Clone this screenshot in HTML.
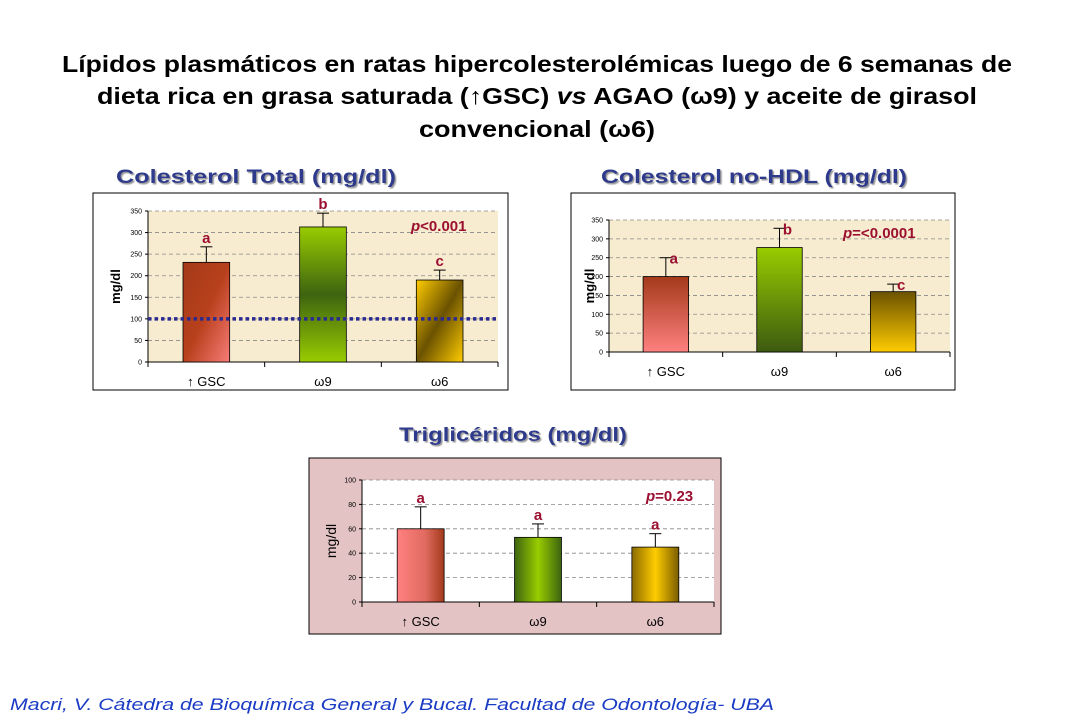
<!DOCTYPE html>
<html><head><meta charset="utf-8">
<style>
body{margin:0;background:#fff;}
svg text{font-family:"Liberation Sans",sans-serif;}
</style></head>
<body>
<svg id="s" width="1080" height="720" viewBox="0 0 1080 720" xmlns="http://www.w3.org/2000/svg">
<defs>
 <linearGradient id="gR1" x1="0" y1="0" x2="1" y2="1"><stop offset="0" stop-color="#a33a1a"/><stop offset="0.5" stop-color="#b8401c"/><stop offset="1" stop-color="#f87c78"/></linearGradient>
 <linearGradient id="gR1b" x1="1" y1="0" x2="0" y2="1"><stop offset="0" stop-color="#a23518"/><stop offset="0.5" stop-color="#c65238"/><stop offset="1" stop-color="#f98080"/></linearGradient>
 <linearGradient id="gG1" x1="0" y1="0" x2="0" y2="1"><stop offset="0" stop-color="#99cc00"/><stop offset="0.5" stop-color="#3d6410"/><stop offset="1" stop-color="#99cc00"/></linearGradient>
 <linearGradient id="gY1" x1="0" y1="0" x2="1" y2="1"><stop offset="0" stop-color="#ffcc00"/><stop offset="0.5" stop-color="#6b5200"/><stop offset="1" stop-color="#ffcc00"/></linearGradient>
 <linearGradient id="gR2" x1="0" y1="0" x2="0" y2="1"><stop offset="0" stop-color="#a33a1a"/><stop offset="1" stop-color="#ff8080"/></linearGradient>
 <linearGradient id="gG2" x1="0" y1="0" x2="0" y2="1"><stop offset="0" stop-color="#99cc00"/><stop offset="1" stop-color="#3d5a10"/></linearGradient>
 <linearGradient id="gY2" x1="0" y1="0" x2="0" y2="1"><stop offset="0" stop-color="#6b5200"/><stop offset="1" stop-color="#ffcc00"/></linearGradient>
 <linearGradient id="gR3" x1="0" y1="0" x2="1" y2="0"><stop offset="0" stop-color="#ff8080"/><stop offset="0.6" stop-color="#e06a60"/><stop offset="1" stop-color="#a33a1a"/></linearGradient>
 <linearGradient id="gG3" x1="0" y1="0" x2="1" y2="0"><stop offset="0" stop-color="#3d6410"/><stop offset="0.5" stop-color="#99cc00"/><stop offset="1" stop-color="#3d6410"/></linearGradient>
 <linearGradient id="gY3" x1="0" y1="0" x2="1" y2="0"><stop offset="0" stop-color="#8a6a00"/><stop offset="0.5" stop-color="#ffcc00"/><stop offset="1" stop-color="#7a5c00"/></linearGradient>
 <filter id="sh"><feDropShadow dx="1.5" dy="1.5" stdDeviation="0.6" flood-color="#999"/></filter>
</defs>
<g font-weight="bold" font-size="23" text-anchor="middle" fill="#000">
 <text x="537" y="72" textLength="950" lengthAdjust="spacingAndGlyphs">Lípidos plasmáticos en ratas hipercolesterolémicas luego de 6 semanas de</text>
 <text x="537" y="104" textLength="880" lengthAdjust="spacingAndGlyphs">dieta rica en grasa saturada (↑GSC) <tspan font-style="italic">vs</tspan> AGAO (ω9) y aceite de girasol</text>
 <text x="537" y="137" textLength="236" lengthAdjust="spacingAndGlyphs">convencional (ω6)</text>
</g>
<g font-weight="bold" font-size="19" fill="#2e3a8c" text-anchor="middle" filter="url(#sh)">
 <text x="256" y="183" textLength="280" lengthAdjust="spacingAndGlyphs">Colesterol  Total  (mg/dl)</text>
 <text x="754" y="183" textLength="306" lengthAdjust="spacingAndGlyphs">Colesterol no-HDL  (mg/dl)</text>
 <text x="513" y="441" textLength="228" lengthAdjust="spacingAndGlyphs">Triglicéridos (mg/dl)</text>
</g>
<text x="10" y="710" font-size="17" font-style="italic" fill="#1a3bc4" textLength="764" lengthAdjust="spacingAndGlyphs">Macri, V. Cátedra de Bioquímica General y Bucal. Facultad de Odontología- UBA</text>
<g id="charts"></g>
</svg>
<script>
const categories = ["↑ GSC", "ω9", "ω6"];
const ctValues = [231, 313, 190];
const ctErrors = [36, 32, 23];
const ctLetters = ["a", "b", "c"];
const ctTicks = [0, 50, 100, 150, 200, 250, 300, 350];
const ctReference = 100;
const hdlValues = [200, 277, 160];
const hdlErrors = [50, 51, 20];
const hdlLetters = ["a", "b", "c"];
const hdlTicks = [0, 50, 100, 150, 200, 250, 300, 350];
const tgValues = [60, 53, 45];
const tgErrors = [18, 11, 11];
const tgLetters = ["a", "a", "a"];
const tgTicks = [0, 20, 40, 60, 80, 100];

const NS = "http://www.w3.org/2000/svg";
const root = document.getElementById("charts");
function mk(tag, attrs, parent, txt){
  const e = document.createElementNS(NS, tag);
  for (const k in attrs) e.setAttribute(k, attrs[k]);
  if (txt !== undefined) e.textContent = txt;
  parent.appendChild(e);
  return e;
}
function chart(cfg){
  const g = mk("g", {}, root);
  
  
  const fr = mk("rect", {x:cfg.fx, y:cfg.fy, width:cfg.fw, height:cfg.fh, fill:cfg.frameFill, stroke:"#000", "stroke-width":1}, g);
  
  
  const max = cfg.ticks[cfg.ticks.length-1];
  const y = v => cfg.y0 - (v/max)*(cfg.y0-cfg.yTop);
  const bandW = (cfg.x1-cfg.x0)/categories.length;
  const pa = mk("rect", {x:cfg.x0, y:cfg.yTop, width:cfg.x1-cfg.x0, height:cfg.y0-cfg.yTop, fill:cfg.plotFill}, g);
  
  
  cfg.ticks.forEach(t => {
    if (t > 0) {
      const gl = mk("line", {x1:cfg.x0, x2:cfg.x1, y1:y(t), y2:y(t), stroke:"#888", "stroke-dasharray":"4,3", "stroke-width":0.8}, g);
      
      
    }
    mk("line", {x1:cfg.x0-3, x2:cfg.x0, y1:y(t), y2:y(t), stroke:"#000"}, g);
    const tl = mk("text", {x:cfg.x0-6, y:y(t)+2.5, "font-size":7, "text-anchor":"end", fill:"#000"}, g, t);
    
    
  });
  mk("line", {x1:cfg.x0, x2:cfg.x0, y1:cfg.yTop, y2:cfg.y0, stroke:"#000"}, g);
  mk("line", {x1:cfg.x0, x2:cfg.x1, y1:cfg.y0, y2:cfg.y0, stroke:"#000"}, g);
  for (let i=0;i<=categories.length;i++){
    mk("line", {x1:cfg.x0+i*bandW, x2:cfg.x0+i*bandW, y1:cfg.y0, y2:cfg.y0+5, stroke:"#000"}, g);
  }
  const yt = mk("text", {x:0, y:0, "font-size":cfg.ylabSize, "font-weight":cfg.ylabBold, "text-anchor":"middle", transform:`translate(${cfg.ylabX},${(cfg.y0+cfg.yTop)/2}) rotate(-90)`}, g, "mg/dl");
  
  
  cfg.values.forEach((v,i) => {
    const cx = cfg.x0 + bandW*(i+0.5);
    const bw = bandW*0.4;
    const top = y(v), etop = y(v+cfg.errors[i]);
    const el = mk("line", {x1:cx, x2:cx, y1:top, y2:etop, stroke:"#000"}, g);
    
    
    mk("line", {x1:cx-6, x2:cx+6, y1:etop, y2:etop, stroke:"#000"}, g);
    const b = mk("rect", {x:cx-bw/2, y:top, width:bw, height:cfg.y0-top, fill:cfg.fills[i], stroke:"#000", "stroke-width":0.8}, g);
    
    
    const lt = mk("text", {x:cx + cfg.letterDx, y:etop - 4 + cfg.letterDy, "font-size":15, "font-weight":"bold", fill:"#9b1030", "text-anchor":"middle"}, g, cfg.letters[i]);
    
    
    const xl = mk("text", {x:cx, y:cfg.y0+24, "font-size":13, "text-anchor":"middle", fill:"#000"}, g, categories[i]);
    
    
  });
  if (cfg.ref !== undefined){
    const rl = mk("line", {x1:cfg.x0, x2:cfg.x1, y1:y(cfg.ref), y2:y(cfg.ref), stroke:"#2a2a90", "stroke-width":3.5, "stroke-dasharray":"3.5,3"}, g);
    
    
  }
  const p = mk("text", {x:cfg.px, y:cfg.py, "font-size":15, "font-weight":"bold", fill:"#9b1030"}, g);
  
  
  mk("tspan", {"font-style":"italic"}, p, "p");
  mk("tspan", {}, p, cfg.ptext);
}
chart({name:"chart-colesterol-total", fx:93, fy:193, fw:415, fh:197, frameFill:"#fff", plotFill:"#f8ecd0",
  x0:148, x1:498, y0:362, yTop:211, ticks:ctTicks, values:ctValues, errors:ctErrors, letters:ctLetters,
  fills:["url(#gR1)","url(#gG1)","url(#gY1)"], ref:ctReference, ylabX:120, ylabSize:13, ylabBold:"bold",
  letterDx:0, letterDy:0, px:411, py:231, ptext:"<0.001"});
chart({name:"chart-colesterol-no-hdl", fx:571, fy:193, fw:384, fh:197, frameFill:"#fff", plotFill:"#f8ecd0",
  x0:609, x1:950, y0:352, yTop:220, ticks:hdlTicks, values:hdlValues, errors:hdlErrors, letters:hdlLetters,
  fills:["url(#gR2)","url(#gG2)","url(#gY2)"], ylabX:594, ylabSize:13, ylabBold:"bold",
  letterDx:8, letterDy:10, px:843, py:238, ptext:"=<0.0001"});
chart({name:"chart-trigliceridos", fx:309, fy:458, fw:412, fh:176, frameFill:"#e3c3c3", plotFill:"#fff",
  x0:362, x1:714, y0:602, yTop:480, ticks:tgTicks, values:tgValues, errors:tgErrors, letters:tgLetters,
  fills:["url(#gR3)","url(#gG3)","url(#gY3)"], ylabX:336, ylabSize:14, ylabBold:"normal",
  letterDx:0, letterDy:0, px:646, py:501, ptext:"=0.23"});
</script>
</body></html>
